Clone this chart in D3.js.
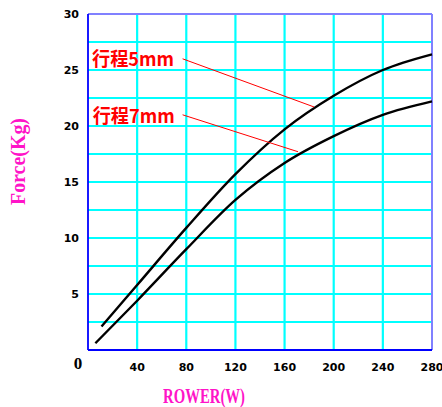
<!DOCTYPE html>
<html><head><meta charset="utf-8">
<script src="https://cdn.jsdelivr.net/npm/d3@7"></script>
<style>html,body{margin:0;padding:0;background:#fff;}svg{display:block;}</style>
</head><body>
<script>
// ---- data ----
const xTicks = [40, 80, 120, 160, 200, 240, 280];
const yTicks = [5, 10, 15, 20, 25, 30];
const stroke5x = [11, 40, 80, 120, 160, 200, 240, 280];
const stroke5y = [2.1, 5.8, 10.9, 15.7, 19.7, 22.7, 25.0, 26.4];
const stroke7x = [6, 40, 80, 120, 160, 200, 240, 280];
const stroke7y = [0.6, 4.4, 9.0, 13.4, 16.7, 19.1, 21.0, 22.2];
const labels = ["行程5mm", "行程7mm"];
const labelPos = [[3.3, 26.0], [3.8, 20.9]];
const leaderStart = [[77, 26.0], [77, 21.0]];
const leaderEnd = [[184, 21.7], [171, 17.7]];
const xTitle = "ROWER(W)";
const yTitle = "Force(Kg)";

const W = 442, H = 407;
const L = 88, R = 432, T = 14, B = 350;
const svg = d3.select("body").append("svg").attr("width", W).attr("height", H);
const x = d3.scaleLinear().domain([0, 280]).range([L, R]);
const y = d3.scaleLinear().domain([0, 30]).range([B, T]);

// grid
const g = svg.append("g");
const gridX = d3.range(40, 280, 40);
const gridY = d3.range(2.5, 30, 2.5);
g.selectAll(".gx").data(gridX).enter().append("line")
  .attr("x1", d => x(d)).attr("x2", d => x(d)).attr("y1", T).attr("y2", B)
  .attr("stroke", "#00ffff").attr("stroke-width", 2.2);
g.selectAll(".gy").data(gridY).enter().append("line")
  .attr("x1", L).attr("x2", R).attr("y1", d => y(d)).attr("y2", d => y(d))
  .attr("stroke", "#00ffff").attr("stroke-width", 2.2);

// frame
svg.append("line").attr("x1", L).attr("x2", R).attr("y1", T).attr("y2", T).attr("stroke", "#8080ff").attr("stroke-width", 2);
svg.append("line").attr("x1", R).attr("x2", R).attr("y1", T).attr("y2", B).attr("stroke", "#8080ff").attr("stroke-width", 2);
svg.append("line").attr("x1", L).attr("x2", L).attr("y1", T).attr("y2", B).attr("stroke", "#0000ff").attr("stroke-width", 1.8);
svg.append("line").attr("x1", L).attr("x2", R).attr("y1", B).attr("y2", B).attr("stroke", "#0000ff").attr("stroke-width", 1.8);

// ticks
const tickFont = "'DejaVu Sans', sans-serif";
svg.selectAll(".xt").data(xTicks).enter().append("text")
  .attr("x", d => x(d)).attr("y", 371).attr("text-anchor", "middle")
  .attr("font-family", tickFont).attr("font-weight", "bold").attr("font-size", 11)
  .attr("fill", "#000").text(d => d);
svg.selectAll(".yt").data(yTicks).enter().append("text")
  .attr("x", 79).attr("y", d => y(d) + 4).attr("text-anchor", "end")
  .attr("font-family", tickFont).attr("font-weight", "bold").attr("font-size", 11)
  .attr("fill", "#000").text(d => d);
svg.append("text").attr("x", 78).attr("y", 369).attr("text-anchor", "middle")
  .attr("font-family", "'Liberation Serif', serif").attr("font-weight", "bold").attr("font-size", 17)
  .attr("fill", "#000").text("0");

// titles
svg.append("text").attr("x", 163).attr("y", 403)
  .attr("font-family", "'Liberation Serif', serif").attr("font-weight", "bold").attr("font-size", 21)
  .attr("textLength", 82).attr("lengthAdjust", "spacingAndGlyphs")
  .attr("fill", "#ff14c8").text(xTitle);
svg.append("text").attr("transform", "translate(25,205) rotate(-90)")
  .attr("font-family", "'Liberation Serif', serif").attr("font-weight", "bold").attr("font-size", 21)
  .attr("textLength", 87).attr("lengthAdjust", "spacingAndGlyphs")
  .attr("fill", "#ff14c8").text(yTitle);

// curves
const line = d3.line().x(d => x(d[0])).y(d => y(d[1])).curve(d3.curveMonotoneX);
[[stroke5x, stroke5y], [stroke7x, stroke7y]].forEach(([xs, ys]) => {
  svg.append("path").datum(xs.map((v, i) => [v, ys[i]]))
    .attr("d", line).attr("fill", "none").attr("stroke", "#000").attr("stroke-width", 2.4);
});

// annotations
labels.forEach((t, i) => {
  svg.append("line")
    .attr("x1", x(leaderStart[i][0])).attr("y1", y(leaderStart[i][1]))
    .attr("x2", x(leaderEnd[i][0])).attr("y2", y(leaderEnd[i][1]))
    .attr("stroke", "#ff0000").attr("stroke-width", 1);
  svg.append("text").attr("x", x(labelPos[i][0])).attr("y", y(labelPos[i][1]) + 7)
    .attr("font-family", "'Noto Sans CJK SC', sans-serif").attr("font-weight", "bold").attr("font-size", 19)
    .attr("textLength", 82).attr("lengthAdjust", "spacingAndGlyphs")
    .attr("fill", "#ff0000").text(t);
});
</script>
</body></html>
